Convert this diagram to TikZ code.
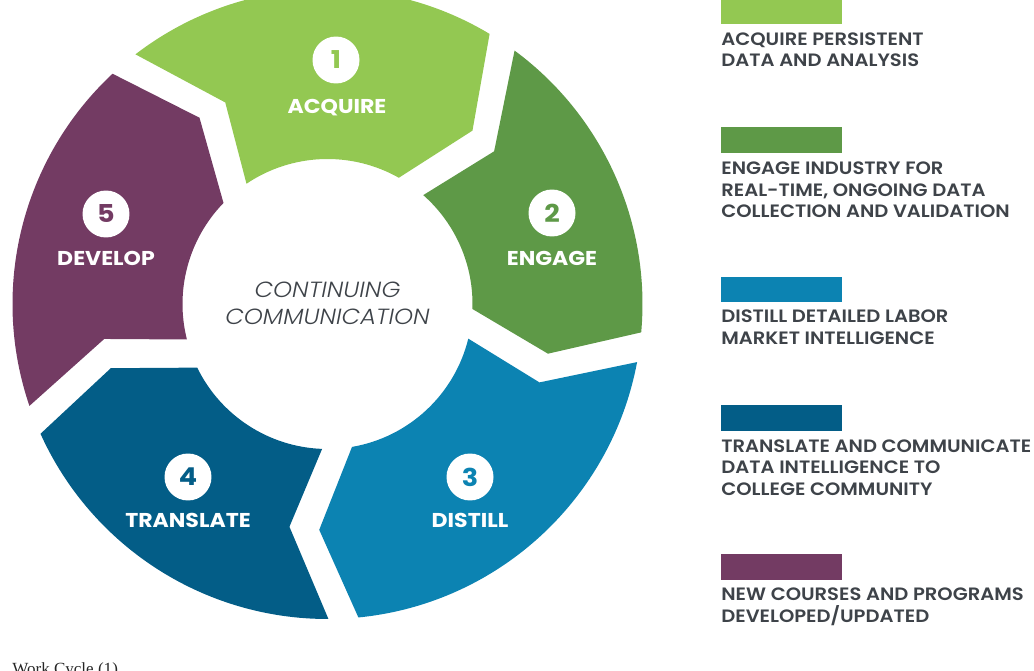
\documentclass[tikz,border=0pt]{standalone}
\usepackage{fontspec}
\setmainfont{Poppins}[BoldFont=* SemiBold, ItalicFont=* Light Italic]
\newfontfamily\legendfont{Poppins SemiBold}[FakeStretch=1.09]
\newfontfamily\stepfont{Poppins Bold}[FakeStretch=1.1]
\newfontfamily\ringfont{Poppins Light Italic}[FakeStretch=1.1]
\newfontfamily\captionserif{Liberation Serif}

\definecolor{acqgreen}{HTML}{93C852}
\definecolor{enggreen}{HTML}{5E9947}
\definecolor{disblue}{HTML}{0C83B2}
\definecolor{trablue}{HTML}{035D87}
\definecolor{devpurple}{HTML}{733B63}
\definecolor{legtext}{HTML}{3E4349}

\tikzset{
  badge/.style={circle, fill=white, minimum size=0.94cm, inner sep=0pt,
    font=\stepfont\fontsize{14}{15}\selectfont},
  steplabel/.style={anchor=base, inner sep=0pt, text=white,
    font=\stepfont\fontsize{11.4}{12}\selectfont},
  centerline/.style={anchor=base, inner sep=0pt, text=legtext,
    font=\ringfont\fontsize{12.5}{13}\selectfont},
  legline/.style={anchor=base west, inner sep=0pt, text=legtext,
    font=\legendfont\fontsize{10.2}{12}\selectfont},
}

\begin{document}
\begin{tikzpicture}[x=0.02cm, y=0.02cm]
        \useasboundingbox (0,0) rectangle (1034,670);
        \clip (0,0) rectangle (1034,670);

        % ring of five arrow segments, clockwise
        \begin{scope}[shift={(327.5,366)}]
        \foreach \col/\tOut/\tMid/\tIn/\lOut/\lMid/\lIn in {
            acqgreen/130.3/120.7/129.9/56.3/46.3/54.6,
            enggreen/56.3/46.3/54.6/-7.9/-16.5/-7.9,
            disblue/-7.9/-16.5/-7.9/-87.1/-95.9/-86.2,
            trablue/-87.1/-95.9/-86.2/-158.4/-167.3/-159.9,
            devpurple/201.6/192.7/200.1/130.3/120.7/129.9}
            \fill[\col] ({\tOut-2.73}:315)
                arc[start angle={\tOut-2.73}, end angle={\lOut+2.73}, radius=315]
                -- ({\lMid+3.8}:226) -- ({\lIn+5.93}:145)
                arc[start angle={\lIn+5.93}, end angle={\tIn-5.93}, radius=145]
                -- ({\tMid-3.8}:226) -- cycle;
        \end{scope}

        % numbers and step names
        \node[badge, text=acqgreen] (n1) at (336,610) {1};
        \node[steplabel] (l1) at (337,556) {ACQUIRE};
        \node[badge, text=enggreen] (n2) at (552,457) {2};
        \node[steplabel] (l2) at (552,404) {ENGAGE};
        \node[badge, text=disblue] (n3) at (470,193) {3};
        \node[steplabel] (l3) at (470,143) {DISTILL};
        \node[badge, text=trablue] (n4) at (188,193) {4};
        \node[steplabel] (l4) at (188,143) {TRANSLATE};
        \node[badge, text=devpurple] (n5) at (106,456) {5};
        \node[steplabel] (l5) at (106,404) {DEVELOP};

        \node[centerline] (c1) at (327.5,372) {CONTINUING};
        \node[centerline] (c2) at (327.5,345) {COMMUNICATION};

        % legend
        \fill[acqgreen] (721,646) rectangle (842,672);
        \node[legline] (g1a) at (721,624) {ACQUIRE PERSISTENT};
        \node[legline] (g1b) at (721,603) {DATA AND ANALYSIS};

        \fill[enggreen] (721,517) rectangle (842,543);
        \node[legline] (g2a) at (721,495) {ENGAGE INDUSTRY FOR};
        \node[legline] (g2b) at (721,473) {REAL-TIME, ONGOING DATA};
        \node[legline] (g2c) at (721,452) {COLLECTION AND VALIDATION};

        \fill[disblue] (721,368) rectangle (842,393);
        \node[legline] (g3a) at (721,347) {DISTILL DETAILED LABOR};
        \node[legline] (g3b) at (721,325) {MARKET INTELLIGENCE};

        \fill[trablue] (721,239) rectangle (842,265);
        \node[legline] (g4a) at (721,218) {TRANSLATE AND COMMUNICATE};
        \node[legline] (g4b) at (721,197) {DATA INTELLIGENCE TO};
        \node[legline] (g4c) at (721,175) {COLLEGE COMMUNITY};

        \fill[devpurple] (721,90) rectangle (842,116);
        \node[legline] (g5a) at (721,70) {NEW COURSES AND PROGRAMS};
        \node[legline] (g5b) at (721,48) {DEVELOPED/UPDATED};

        \node[anchor=base west, inner sep=0pt, text=black!85,
            font=\captionserif\fontsize{9.7}{11}\selectfont] (cap) at (12,-4) {Work Cycle (1)};
\end{tikzpicture}
\end{document}
